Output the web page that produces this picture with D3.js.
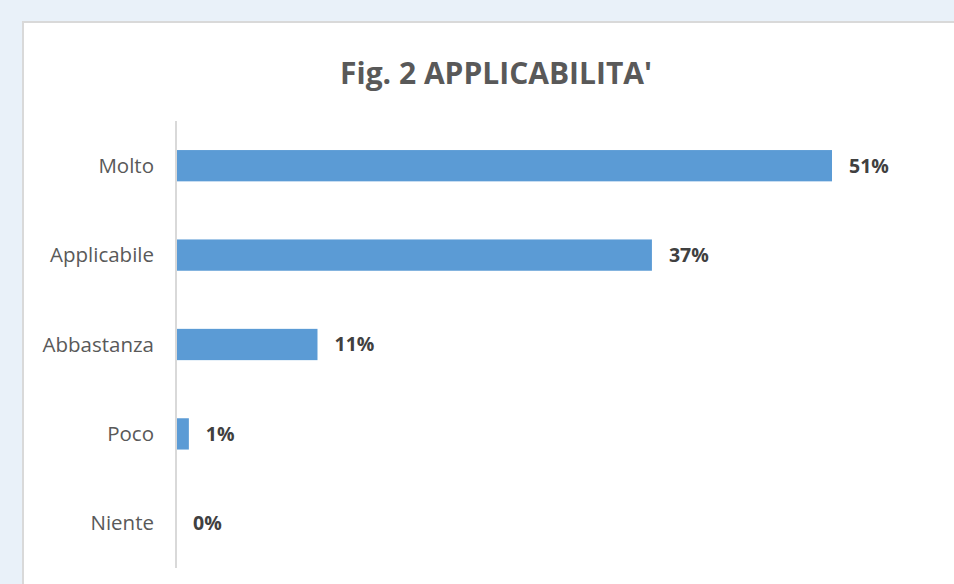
<!DOCTYPE html>
<html><head><meta charset="utf-8">
<script src="https://cdn.jsdelivr.net/npm/d3@7"></script>
<style>
html,body{margin:0;padding:0;background:#e9f1f9;}
svg{display:block;}
</style></head>
<body><svg id="c" width="954" height="584"></svg>
<script>
const categories = ["Molto","Applicabile","Abbastanza","Poco","Niente"];
const values = [51,37,11,1,0];
const title = "Fig. 2 APPLICABILITA'";

const svg = d3.select("#c");
svg.append("rect").attr("x",23).attr("y",22).attr("width",960).attr("height",600)
  .attr("fill","#fff").attr("stroke","#d9d9d9").attr("stroke-width",2);

const x = d3.scaleLinear().domain([0,51]).range([176,832]);
const y = d3.scaleBand().domain(categories).range([121,568]).paddingInner(0.65).paddingOuter(0.325);

svg.append("text").attr("x",496).attr("y",84).attr("text-anchor","middle")
  .attr("font-family","Open Sans, sans-serif").attr("font-weight","bold").attr("font-size",30)
  .attr("fill","#595959").text(title);

svg.selectAll("rect.bar").data(values).join("rect").attr("class","bar")
  .attr("x",x(0)).attr("y",(d,i)=>y(categories[i]))
  .attr("width",d=>x(d)-x(0)).attr("height",y.bandwidth()).attr("fill","#5b9bd5");

svg.append("line").attr("x1",176).attr("x2",176).attr("y1",121).attr("y2",568)
  .attr("stroke","#d9d9d9").attr("stroke-width",2);

svg.selectAll("text.cat").data(categories).join("text").attr("class","cat")
  .attr("x",154).attr("y",d=>y(d)+y.bandwidth()/2).attr("dy","0.35em").attr("text-anchor","end")
  .attr("font-family","Open Sans, sans-serif").attr("font-size",20.5).attr("fill","#595959").text(d=>d);

svg.selectAll("text.val").data(values).join("text").attr("class","val")
  .attr("x",d=>x(d)+17).attr("y",(d,i)=>y(categories[i])+y.bandwidth()/2).attr("dy","0.35em")
  .attr("font-family","Open Sans, sans-serif").attr("font-weight","bold").attr("font-size",19.5)
  .attr("fill","#404040").text(d=>d+"%");
</script></body></html>
